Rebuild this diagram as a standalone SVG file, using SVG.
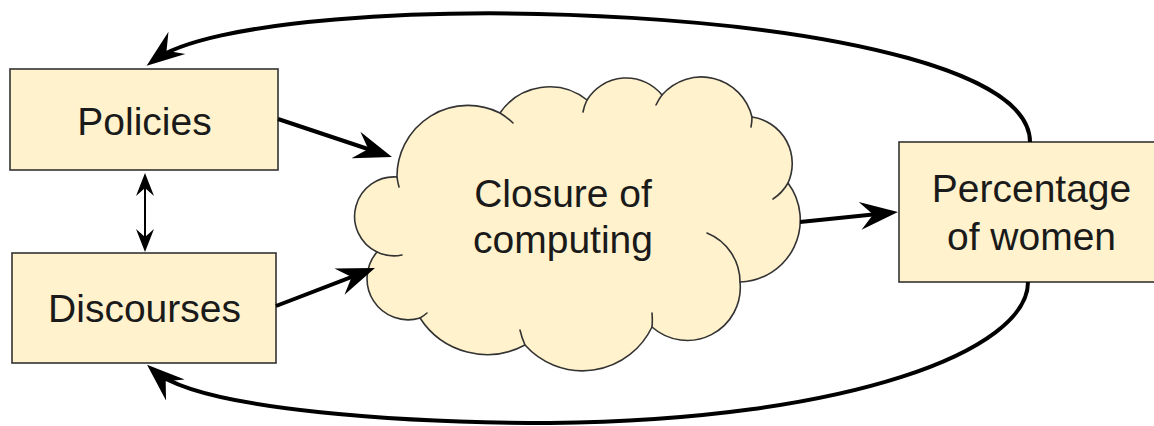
<svg xmlns="http://www.w3.org/2000/svg" width="1154" height="426" viewBox="0 0 1154 426">
  <style>
    .box { fill: #fff2cc; stroke: #333333; stroke-width: 1.6; }
    .cloud { fill: #fff2cc; stroke: #333333; stroke-width: 1.6; stroke-linejoin: round; }
    .tail { fill: none; stroke: #333333; stroke-width: 1.6; stroke-linecap: round; }
    .lbl { font-family: "Liberation Sans", Arial, sans-serif; font-size: 39px; fill: #1a1a1a; text-anchor: middle; }
    .thick { fill: none; stroke: #000000; stroke-width: 4; }
    .thin { fill: none; stroke: #000000; stroke-width: 2; }
  </style>
  <defs>
    <marker id="ah" markerUnits="userSpaceOnUse" markerWidth="40" markerHeight="30" viewBox="0 -15 40 30" refX="30" refY="0" orient="auto" overflow="visible">
      <path d="M38,0 L0,-14 L13,0 L0,14 Z" fill="#000000"/>
    </marker>
    <marker id="sh" markerUnits="userSpaceOnUse" markerWidth="26" markerHeight="20" viewBox="0 -10 26 20" refX="20" refY="0" orient="auto-start-reverse" overflow="visible">
      <path d="M24,0 L1,-9 L9,0 L1,9 Z" fill="#000000"/>
    </marker>
  </defs>

  <g id="policies">
    <rect class="box" x="10" y="69" width="268" height="101"/>
    <text class="lbl" x="144.5" y="134.5">Policies</text>
  </g>

  <g id="discourses">
    <rect class="box" x="12" y="253" width="264" height="110"/>
    <text class="lbl" x="144.5" y="322">Discourses</text>
  </g>

  <g id="closure">
    <path class="cloud" d="M397 177 A71 71 0 0 1 500 113 A60 60 0 0 1 587 100 A46 46 0 0 1 662 95 A52 52 0 0 1 752 117 A47 47 0 0 1 788 183 A62 62 0 0 1 740 282 A53 53 0 0 1 652 327 A77 77 0 0 1 525 345 A80 80 0 0 1 420 318 A41 41 0 0 1 377 252 A39.5 39.5 0 0 1 397 177 Z"/>
    <path class="tail" d="M397 177 A71 71 0 0 0 399 187 M500 113 A71 71 0 0 1 513 123 M587 100 A46 46 0 0 0 583 112 M662 95 A52 52 0 0 0 656 105 M752 117 A52 52 0 0 1 751 127 M788 183 A47 47 0 0 1 773 199 M740 282 A53 53 0 0 0 707 233 M652 327 A77 77 0 0 0 652 313 M525 345 A77 77 0 0 1 520 330 M420 318 A41 41 0 0 0 427 313 M377 252 A39.5 39.5 0 0 0 402 255"/>
    <text class="lbl" x="563" y="207">Closure of</text>
    <text class="lbl" x="563" y="253">computing</text>
  </g>

  <g id="percentage">
    <rect class="box" x="899" y="142" width="266" height="140"/>
    <text class="lbl" x="1031.5" y="202">Percentage</text>
    <text class="lbl" x="1031.5" y="250">of women</text>
  </g>

  <g id="connectors">
    <path class="thick" d="M1030 142 C1030 0 260 -20 153 61" marker-end="url(#ah)"/>
    <path class="thick" d="M1028 282 C1028 350 850 420 550 423 C420 423 200 412 153 370" marker-end="url(#ah)"/>
    <path class="thick" d="M278 119 L384.4 154.5" marker-end="url(#ah)"/>
    <path class="thick" d="M276 306 L367.5 270.9" marker-end="url(#ah)"/>
    <path class="thick" d="M800 222 L890 212.8" marker-end="url(#ah)"/>
    <path class="thin" d="M145 177 L145 248" marker-start="url(#sh)" marker-end="url(#sh)"/>
  </g>
</svg>
